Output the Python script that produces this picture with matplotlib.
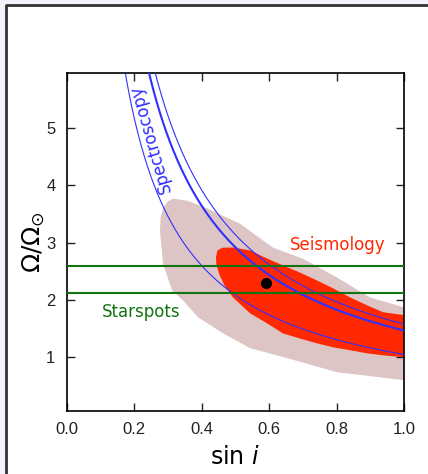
import numpy as np
import matplotlib
matplotlib.use('Agg')
import matplotlib.pyplot as plt
from matplotlib.lines import Line2D
from matplotlib.patches import Rectangle

# outer (light) seismology region boundary, (sin i, Omega/Omega_sun), closed polygon
pink_x = [0.316, 0.36, 0.416, 0.514, 0.612, 0.70, 0.801, 0.899, 1.0,
          1.0, 0.801, 0.633, 0.544, 0.464, 0.39, 0.345, 0.313, 0.286, 0.277, 0.279, 0.288, 0.30]
pink_y = [3.77, 3.73, 3.60, 3.33, 2.91, 2.72, 2.39, 2.04, 1.865,
          0.59, 0.73, 1.01, 1.15, 1.41, 1.69, 1.99, 2.16, 2.63, 3.21, 3.45, 3.62, 3.72]

# inner (red) seismology region boundary
red_x = [0.462, 0.493, 0.544, 0.594, 0.641, 0.691, 0.742, 0.79, 0.84, 0.891, 0.938, 1.0,
         1.0, 0.938, 0.891, 0.84, 0.79, 0.742, 0.691, 0.641, 0.594, 0.544, 0.493, 0.468,
         0.452, 0.444, 0.443, 0.447]
red_y = [2.91, 2.914, 2.862, 2.722, 2.60, 2.477, 2.337, 2.198, 2.04, 1.90, 1.78, 1.73,
         0.99, 1.026, 1.06, 1.114, 1.166, 1.236, 1.32, 1.41, 1.586, 1.76, 2.04, 2.25,
         2.45, 2.62, 2.75, 2.86]

# spectroscopy: Omega = K / sin i
spec_k = [1.04, 1.46, 1.57]
spec_lw = [0.8, 1.5, 0.8]

# starspot limits
spot_levels = [2.12, 2.59]

# best-fit point
best_x, best_y = 0.59, 2.30

xticks = [0.0, 0.2, 0.4, 0.6, 0.8, 1.0]
yticks = [1, 2, 3, 4, 5]

fig = plt.figure(figsize=(4.28, 4.74), dpi=100, facecolor='#f4f2fb')
# white panel with dark frame on left/top
fig.patches.append(Rectangle((6/428, 0), 1, 1-5/474, transform=fig.transFigure,
                             facecolor='white', edgecolor='none', zorder=-10))
fig.lines.append(Line2D([6/428, 6/428, 1], [0, 1-5/474, 1-5/474], transform=fig.transFigure,
                        color='#333333', lw=2, zorder=-9))

ax = fig.add_axes([66.5/428, 1-411/474, 337.5/428, 338/474])
ax.set_zorder(5)
ax.set_facecolor('white')

ax.fill(pink_x, pink_y, color='#ddc5c5', lw=0, zorder=1)
ax.fill(red_x, red_y, color='#ff2800', lw=0, zorder=2)

xs = np.linspace(0.05, 1.0, 400)
for k, lw in zip(spec_k, spec_lw):
    ax.plot(xs, k/xs, color='#3030ff', lw=lw, zorder=3)

for lev in spot_levels:
    ax.axhline(lev, color='#107510', lw=1.5, zorder=4)

ax.plot(best_x, best_y, 'o', color='black', ms=7, zorder=5)

ax.text(0.25, 4.82, 'Spectroscopy', color='#3030ff', fontsize=12, rotation=106,
        ha='center', va='center', rotation_mode='anchor')
ax.text(0.803, 2.95, 'Seismology', color='#ff2800', fontsize=12, ha='center', va='center')
ax.text(0.222, 1.78, 'Starspots', color='#107510', fontsize=12, ha='center', va='center')

ax.set_xlim(0, 1)
ax.set_ylim(0.05, 5.97)
ax.set_xticks(xticks)
ax.set_yticks(yticks)
ax.set_xticklabels(['%.1f' % t for t in xticks], family='Liberation Sans')
ax.set_yticklabels([str(t) for t in yticks], family='Liberation Sans')
ax.tick_params(direction='in', top=True, right=True, length=6, width=1,
               labelsize=12, pad=8, colors='#222222')
for s in ax.spines.values():
    s.set_linewidth(1.2)

ax.set_xlabel(r'sin $i$', fontsize=17, labelpad=6)
ax.set_ylabel(r'$\Omega/\Omega_{\odot}$', fontsize=18, labelpad=-1)

plt.savefig('out.png', dpi=100, facecolor=fig.get_facecolor())
